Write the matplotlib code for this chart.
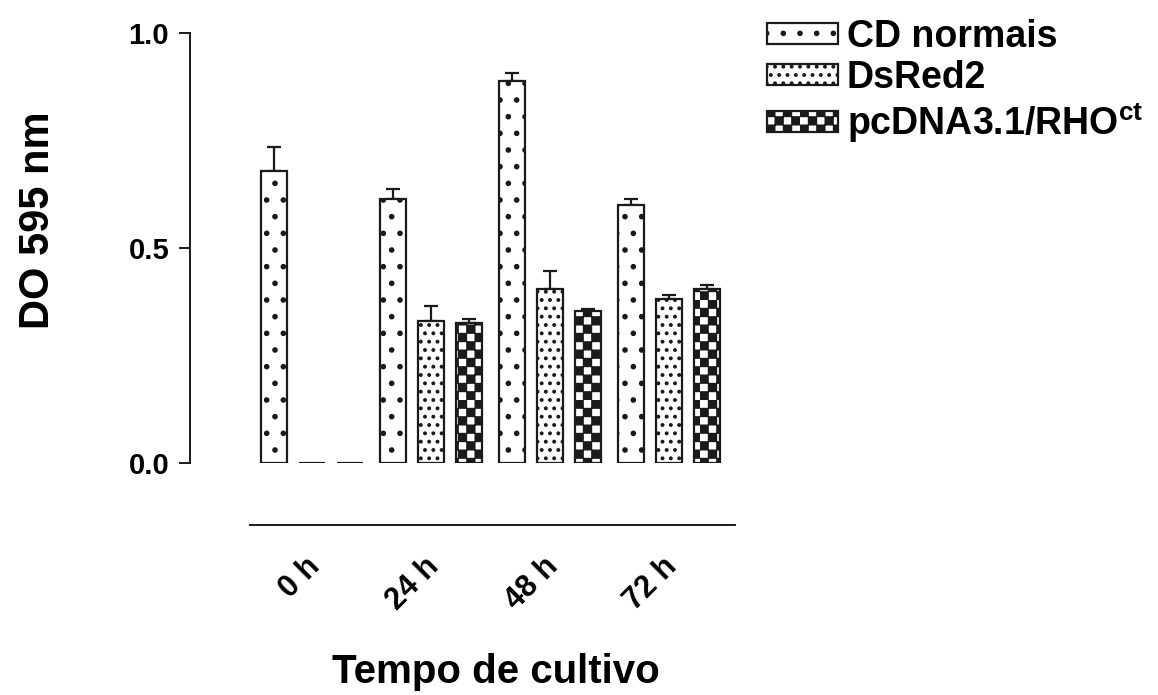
import numpy as np
import matplotlib
matplotlib.use('Agg')
import matplotlib.pyplot as plt
import matplotlib.transforms as mtransforms
from matplotlib import hatch as mhatch
from matplotlib.path import Path

groups = ['0 h', '24 h', '48 h', '72 h']
series = ['CD normais', 'DsRed2', r'pcDNA3.1/RHO$^{ct}$']
cd_normais = [0.679, 0.614, 0.888, 0.600]
cd_normais_err = [0.056, 0.023, 0.019, 0.014]
dsred2 = [0.0, 0.330, 0.405, 0.381]
dsred2_err = [0.0, 0.034, 0.042, 0.010]
pcdna = [0.0, 0.326, 0.353, 0.405]
pcdna_err = [0.0, 0.009, 0.005, 0.009]


class Checker(mhatch.HatchPatternBase):
    # filled checkerboard, drawn for the '*' hatch character
    def __init__(self, hatch, density):
        self.num_cells = hatch.count('*') * density
        self.num_vertices = (self.num_cells ** 2 // 2) * 5

    def set_vertices_and_codes(self, vertices, codes):
        n = self.num_cells
        s = 1.0 / n
        e = 0.006
        k = 0
        for i in range(n):
            for j in range(n):
                if (i + j) % 2:
                    continue
                x0, y0 = j * s + e, i * s + e
                x1, y1 = (j + 1) * s - e, (i + 1) * s - e
                vertices[k:k + 5] = [(x0, y0), (x1, y0), (x1, y1), (x0, y1), (x0, y0)]
                codes[k:k + 5] = [Path.MOVETO, Path.LINETO, Path.LINETO,
                                  Path.LINETO, Path.CLOSEPOLY]
                k += 5


mhatch._hatch_types = [Checker if t is mhatch.Stars else t for t in mhatch._hatch_types]

plt.rcParams['font.family'] = ['Liberation Sans', 'DejaVu Sans']
plt.rcParams['font.weight'] = 'bold'
plt.rcParams['mathtext.default'] = 'regular'
plt.rcParams['hatch.linewidth'] = 1.6

ink = '#1a1a1a'

fig = plt.figure(figsize=(11.58, 6.95), dpi=100)
ax = fig.add_axes([190 / 1158, (695 - 463) / 695, 545 / 1158, 430 / 695])

gpos = np.arange(len(groups)) * 3.13
width = 0.68
values = [cd_normais, dsred2, pcdna]
errors = [cd_normais_err, dsred2_err, pcdna_err]
hatches = ['.', '..', '**']

for k, (vals, errs, h, name) in enumerate(zip(values, errors, hatches, series)):
    x = gpos + (k - 1)
    ax.bar(x, vals, width, color='white', edgecolor=ink, linewidth=1.6,
           hatch=h, label=name, zorder=2)
    vals = np.array(vals)
    errs = np.array(errs)
    m = vals > 0
    ax.errorbar(x[m], vals[m], yerr=[np.zeros(m.sum()), errs[m]], fmt='none',
                ecolor=ink, elinewidth=1.6, capsize=5, capthick=1.6, zorder=1)

ax.set_xlim(-3.22, 11.12)
ax.set_ylim(0, 1.0)
ax.set_yticks([0.0, 0.5, 1.0])
ax.yaxis.set_major_formatter(matplotlib.ticker.FormatStrFormatter('%.1f'))

for side in ['top', 'right']:
    ax.spines[side].set_visible(False)
ax.spines['left'].set_bounds(0, 1.0)
ax.spines['left'].set_color(ink)
ax.spines['left'].set_linewidth(1.4)
ax.spines['bottom'].set_position(('outward', 62 * 0.72))
ax.spines['bottom'].set_bounds(-1.64, 11.12)
ax.spines['bottom'].set_color(ink)
ax.spines['bottom'].set_linewidth(1.4)

ax.tick_params(axis='y', length=8, width=1.4, color=ink, labelsize=21, pad=7)
ax.tick_params(axis='x', length=0, labelsize=22, pad=19)
ax.set_xticks(gpos, groups, rotation=45, ha='right', rotation_mode='anchor')
shift = mtransforms.ScaledTranslation(-7 / 100, 0, fig.dpi_scale_trans)
for lbl in ax.get_xticklabels():
    lbl.set_transform(lbl.get_transform() + shift)

ax.set_ylabel('DO 595 nm', fontsize=30, fontweight='bold')
ax.yaxis.set_label_coords(-0.243, 0.565)
ax.set_xlabel('Tempo de cultivo', fontsize=29, fontweight='bold')
ax.xaxis.label.set_va('center')
ax.xaxis.set_label_coords(0.561, -0.486)

ax.legend(loc='upper left', bbox_to_anchor=(767 / 1158, 1 - 19 / 695),
          bbox_transform=fig.transFigure, frameon=False, fontsize=27,
          handlelength=1.88, handleheight=0.5, handletextpad=0.25,
          labelspacing=0.12, borderpad=0, borderaxespad=0)

fig.savefig('out.png', dpi=100)
